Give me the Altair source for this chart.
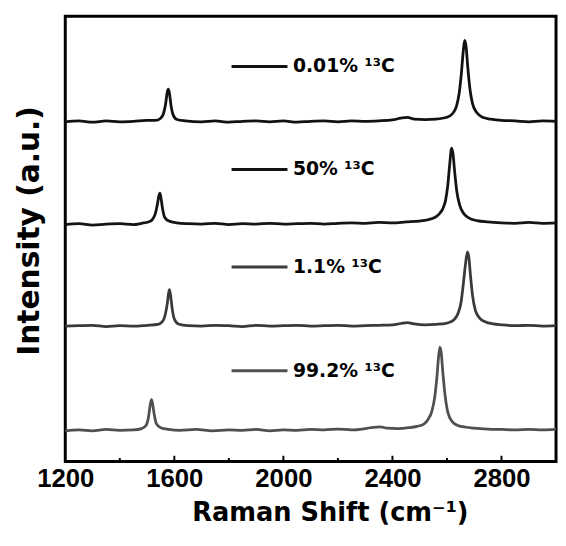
import altair as alt
import pandas as pd

# ---------------- data ----------------
samples = ["0.01% ¹³C", "50% ¹³C", "1.1% ¹³C", "99.2% ¹³C"]
offsets = [76.3, 53.2, 30.4, 6.9]          # vertical stacking offsets (a.u.)
label_y = [88.7, 65.6, 43.7, 20.4]         # y of each in-plot label (a.u.)

shift_001 = [1200, 1250, 1300, 1350, 1400, 1450, 1500, 1530, 1550, 1560,
             1568, 1574, 1578, 1582, 1588, 1596, 1610, 1640, 1700, 1750,
             1800, 1850, 1900, 1950, 2000, 2050, 2100, 2150, 2200, 2250,
             2300, 2350, 2400, 2430, 2455, 2480, 2520, 2560, 2600, 2620,
             2635, 2645, 2653, 2660, 2665, 2670, 2676, 2684, 2694, 2710,
             2730, 2760, 2800, 2850, 2900, 2950, 3000]
int_001 = [0.0, 0.2, -0.1, 0.2, 0.0, 0.1, 0.3, 0.3, 0.8, 1.8,
           4.0, 6.6, 7.3, 6.4, 3.6, 1.5, 0.5, 0.2, 0.0, 0.2,
           -0.1, 0.1, 0.2, 0.0, 0.2, -0.1, 0.1, 0.2, 0.0, 0.2,
           0.1, 0.2, 0.4, 0.8, 1.0, 0.6, 0.5, 0.6, 1.0, 1.8,
           3.5, 6.5, 11.0, 16.0, 18.3, 17.0, 12.5, 7.5, 4.0, 2.0,
           1.0, 0.6, 0.3, 0.2, 0.0, 0.2, 0.1]

shift_50 = [1200, 1250, 1300, 1350, 1400, 1450, 1480, 1505, 1520, 1530,
            1538, 1543, 1547, 1551, 1557, 1565, 1580, 1610, 1650, 1700,
            1750, 1800, 1850, 1900, 1950, 2000, 2050, 2100, 2150, 2200,
            2250, 2300, 2350, 2400, 2450, 2500, 2530, 2555, 2570, 2585,
            2595, 2603, 2610, 2617, 2622, 2628, 2636, 2646, 2660, 2680,
            2710, 2750, 2800, 2850, 2900, 2950, 3000]
int_50 = [0.0, 0.2, -0.1, 0.1, 0.2, 0.0, 0.3, 0.6, 1.2, 2.4,
          4.6, 6.4, 7.1, 6.0, 3.5, 1.6, 0.8, 0.4, 0.2, 0.1,
          0.3, 0.0, 0.2, 0.1, 0.3, 0.1, 0.2, 0.3, 0.1, 0.3,
          0.4, 0.3, 0.5, 0.4, 0.6, 0.8, 1.1, 1.6, 2.3, 3.6,
          5.5, 8.8, 13.5, 17.2, 16.0, 12.0, 7.5, 4.5, 2.6, 1.5,
          0.9, 0.6, 0.4, 0.3, 0.5, 0.3, 0.4]

shift_11 = [1200, 1250, 1300, 1350, 1400, 1450, 1500, 1540, 1556, 1566,
            1574, 1579, 1582, 1586, 1592, 1600, 1615, 1650, 1700, 1750,
            1800, 1850, 1900, 1950, 2000, 2050, 2100, 2150, 2200, 2250,
            2300, 2350, 2400, 2430, 2455, 2480, 2520, 2560, 2600, 2625,
            2640, 2652, 2660, 2668, 2675, 2680, 2686, 2694, 2704, 2720,
            2740, 2770, 2800, 2850, 2900, 2950, 3000]
int_11 = [0.0, 0.1, 0.2, -0.1, 0.1, 0.0, 0.2, 0.4, 1.0, 2.4,
          5.0, 7.4, 8.2, 7.0, 4.0, 1.6, 0.5, 0.1, 0.0, 0.2,
          0.1, -0.1, 0.2, 0.0, 0.1, 0.2, 0.0, 0.1, 0.2, 0.0,
          0.1, 0.2, 0.3, 0.6, 0.8, 0.5, 0.3, 0.4, 0.7, 1.4,
          2.8, 5.5, 9.5, 14.0, 16.6, 15.6, 11.5, 6.8, 3.6, 1.8,
          1.0, 0.5, 0.3, 0.1, 0.2, 0.0, 0.1]

shift_992 = [1200, 1250, 1300, 1350, 1400, 1450, 1480, 1496, 1505, 1511,
             1516, 1520, 1526, 1534, 1550, 1580, 1620, 1680, 1740, 1800,
             1850, 1900, 1950, 2000, 2050, 2100, 2150, 2200, 2250, 2300,
             2330, 2355, 2380, 2420, 2460, 2490, 2515, 2530, 2545, 2555,
             2563, 2569, 2574, 2579, 2585, 2593, 2603, 2620, 2640, 2670,
             2700, 2750, 2800, 2850, 2900, 2950, 3000]
int_992 = [0.0, 0.2, 0.0, 0.3, 0.1, 0.2, 0.5, 1.2, 3.0, 5.6,
           7.0, 6.2, 3.8, 1.6, 0.7, 0.3, 0.1, 0.3, 0.0, 0.2,
           0.1, 0.3, 0.0, 0.2, 0.1, 0.3, 0.2, 0.4, 0.2, 0.5,
           0.8, 0.9, 0.6, 0.5, 0.7, 1.0, 1.5, 2.5, 4.5, 7.5,
           12.0, 16.5, 18.8, 17.5, 13.0, 8.0, 4.2, 2.0, 1.2, 0.8,
           0.6, 0.4, 0.3, 0.2, 0.3, 0.2, 0.3]

x_ticks = [1200, 1600, 2000, 2400, 2800]
minor_ticks = [1400, 1800, 2200, 2600]

# ---------------- build tables ----------------
shifts = [shift_001, shift_50, shift_11, shift_992]
ints = [int_001, int_50, int_11, int_992]
colors = ["#111111", "#141414", "#3a3a3a", "#505050"]

rows = []
for s, xs, ys, off in zip(samples, shifts, ints, offsets):
    for xv, yv in zip(xs, ys):
        rows.append({"sample": s, "shift": xv, "intensity": yv + off})
spectra = pd.DataFrame(rows)

labels = pd.DataFrame({"sample": samples, "y": label_y,
                       "x0": [1810] * 4, "x1": [2015] * 4, "xt": [2035] * 4})

ticks = pd.DataFrame({"x": x_ticks[1:] + minor_ticks,
                      "y0": [0.0] * 8,
                      "y1": [1.3] * 4 + [0.8] * 4})

W, H = 497, 451
xscale = alt.Scale(domain=[1200, 3000], nice=False, zero=False)
yscale = alt.Scale(domain=[0, 100], nice=False, zero=False)
cscale = alt.Scale(domain=samples, range=colors)

xaxis = alt.Axis(values=x_ticks, format="d", grid=False, ticks=False, tickSize=0,
                 domain=False, labelFont="Liberation Sans", labelFontSize=26,
                 labelFontWeight="bold", labelColor="black", labelPadding=4,
                 title="Raman Shift (cm⁻¹)", titleFont="DejaVu Sans",
                 titleFontSize=26, titleFontWeight="bold", titleColor="black",
                 titleX=268, titleY=60, titleAlign="center",
                 titleBaseline="alphabetic", labelFlush=False)
yaxis = alt.Axis(labels=False, ticks=False, domain=False, grid=False,
                 title="Intensity (a.u.)", titleFont="DejaVu Sans",
                 titleFontSize=30, titleFontWeight="bold", titleColor="black",
                 titleX=-36, titleY=217, titleAngle=-90, titleAlign="center",
                 titleBaseline="middle")

lines = alt.Chart(spectra).mark_line(strokeWidth=2.8, interpolate="monotone").encode(
    x=alt.X("shift:Q", scale=xscale, axis=xaxis),
    y=alt.Y("intensity:Q", scale=yscale, axis=yaxis),
    color=alt.Color("sample:N", scale=cscale, legend=None),
    detail="sample:N",
)

segs = alt.Chart(labels).mark_rule(strokeWidth=3).encode(
    x="x0:Q", x2="x1:Q", y="y:Q",
    color=alt.Color("sample:N", scale=cscale, legend=None),
)

texts = alt.Chart(labels).mark_text(
    align="left", baseline="middle", font="DejaVu Sans", fontSize=19,
    fontWeight="bold", color="black",
).encode(x="xt:Q", y="y:Q", text="sample:N")

tickmarks = alt.Chart(ticks).mark_rule(strokeWidth=2, color="black").encode(
    x="x:Q", y="y0:Q", y2="y1:Q"
)

chart = alt.layer(lines, segs, texts, tickmarks).properties(
    width=W, height=H,
    autosize=alt.AutoSizeParams(type="none"),
    padding={"left": 58, "top": 5, "right": 2, "bottom": 66},
).configure(background="white").configure_view(stroke="black", strokeWidth=3)

chart.save("out.html", embed_options={"renderer": "svg", "actions": False})
